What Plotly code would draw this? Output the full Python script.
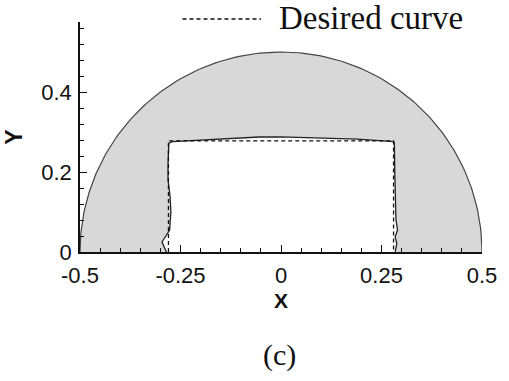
import numpy as np
import plotly.graph_objects as go

# Outer boundary: half-disc of radius 0.5 centred at the origin
radius = 0.5

# Computed inner boundary (left bottom -> top -> right bottom)
inner_x = [-0.285, -0.296, -0.277, -0.274, -0.276, -0.281, -0.281, -0.279,
           -0.270, -0.200, -0.054, 0.000, 0.100, 0.190, 0.280,
           0.282, 0.283, 0.284, 0.286, 0.290, 0.284, 0.288, 0.284]
inner_y = [0.000, 0.025, 0.055, 0.100, 0.140, 0.180, 0.220, 0.272,
           0.276, 0.280, 0.2875, 0.288, 0.285, 0.282, 0.276,
           0.272, 0.200, 0.120, 0.080, 0.055, 0.038, 0.022, 0.000]

# Target (desired) cavity outline
desired_x = [-0.28, -0.28, 0.28, 0.28]
desired_y = [0.0, 0.278, 0.278, 0.0]

x_tick_vals = [-0.5, -0.25, 0, 0.25, 0.5]
x_tick_text = ["-0.5", "-0.25", "0", "0.25", "0.5"]
y_tick_vals = [0, 0.2, 0.4]
y_tick_text = ["0", "0.2", "0.4"]

theta = np.linspace(np.pi, 0, 181)
arc_x = radius * np.cos(theta)
arc_y = radius * np.sin(theta)

# Shaded region: half-disc with the cavity cut out as a notch
fill_x = list(arc_x) + inner_x[::-1] + [arc_x[0]]
fill_y = list(arc_y) + inner_y[::-1] + [arc_y[0]]

fig = go.Figure()
fig.add_trace(go.Scatter(x=fill_x, y=fill_y, mode="lines", fill="toself",
                         fillcolor="#d8d8d8", line=dict(width=0),
                         hoverinfo="skip", showlegend=False))
fig.add_trace(go.Scatter(x=arc_x, y=arc_y, mode="lines",
                         line=dict(color="#444444", width=1.2),
                         showlegend=False))
fig.add_trace(go.Scatter(x=inner_x, y=inner_y, mode="lines",
                         line=dict(color="#222222", width=1.3),
                         showlegend=False))
fig.add_trace(go.Scatter(x=desired_x, y=desired_y, mode="lines",
                         line=dict(color="#111111", width=1.3, dash="4px,3px"),
                         name="Desired curve", showlegend=False))

W, H = 509, 381
L, R, T, B = 80, 25, 22, 129
pw, ph = W - L - R, H - T - B


def px(xp):
    return (xp - L) / pw


def py(yp):
    return (H - B - yp) / ph


# Legend key drawn by hand so the dash sample is long
fig.add_shape(type="line", xref="paper", yref="paper",
              x0=px(183), x1=px(262), y0=py(19), y1=py(19),
              line=dict(color="#111111", width=1.3, dash="4px,3px"))
fig.add_annotation(text="Desired curve", xref="paper", yref="paper",
                   x=px(278), y=py(18), xanchor="left", yanchor="middle",
                   showarrow=False,
                   font=dict(family="Liberation Serif", size=33, color="#111111"))
fig.add_annotation(text="(c)", xref="paper", yref="paper",
                   x=px(280), y=py(355), xanchor="center", yanchor="middle",
                   showarrow=False,
                   font=dict(family="Liberation Serif", size=30, color="#111111"))

axis_font = dict(family="Liberation Sans", size=22, color="#111111")
fig.update_xaxes(range=[-0.5, 0.5], showgrid=False, zeroline=False,
                 showline=True, linecolor="#111111", linewidth=1.5,
                 ticks="inside", ticklen=7, tickwidth=1.3, tickcolor="#111111",
                 tickvals=x_tick_vals, ticktext=x_tick_text, tickfont=axis_font,
                 ticklabelstandoff=3,
                 minor=dict(dtick=0.05, ticks="inside", ticklen=4,
                            tickwidth=1.1, tickcolor="#111111"),
                 title=dict(text="<b>X</b>", standoff=6,
                            font=dict(family="Liberation Sans", size=21, color="#111111")))
fig.update_yaxes(range=[0, 0.575], showgrid=False, zeroline=False,
                 showline=True, linecolor="#111111", linewidth=1.5,
                 ticks="inside", ticklen=7, tickwidth=1.3, tickcolor="#111111",
                 tickvals=y_tick_vals, ticktext=y_tick_text, tickfont=axis_font,
                 ticklabelstandoff=2,
                 minor=dict(dtick=0.04, ticks="inside", ticklen=4,
                            tickwidth=1.1, tickcolor="#111111"),
                 title=dict(text="<b>Y</b>", standoff=12,
                            font=dict(family="Liberation Sans", size=23, color="#111111")))

fig.update_layout(width=W, height=H, autosize=False,
                  margin=dict(l=L, r=R, t=T, b=B),
                  paper_bgcolor="white", plot_bgcolor="white")

fig.write_html("out.html")
